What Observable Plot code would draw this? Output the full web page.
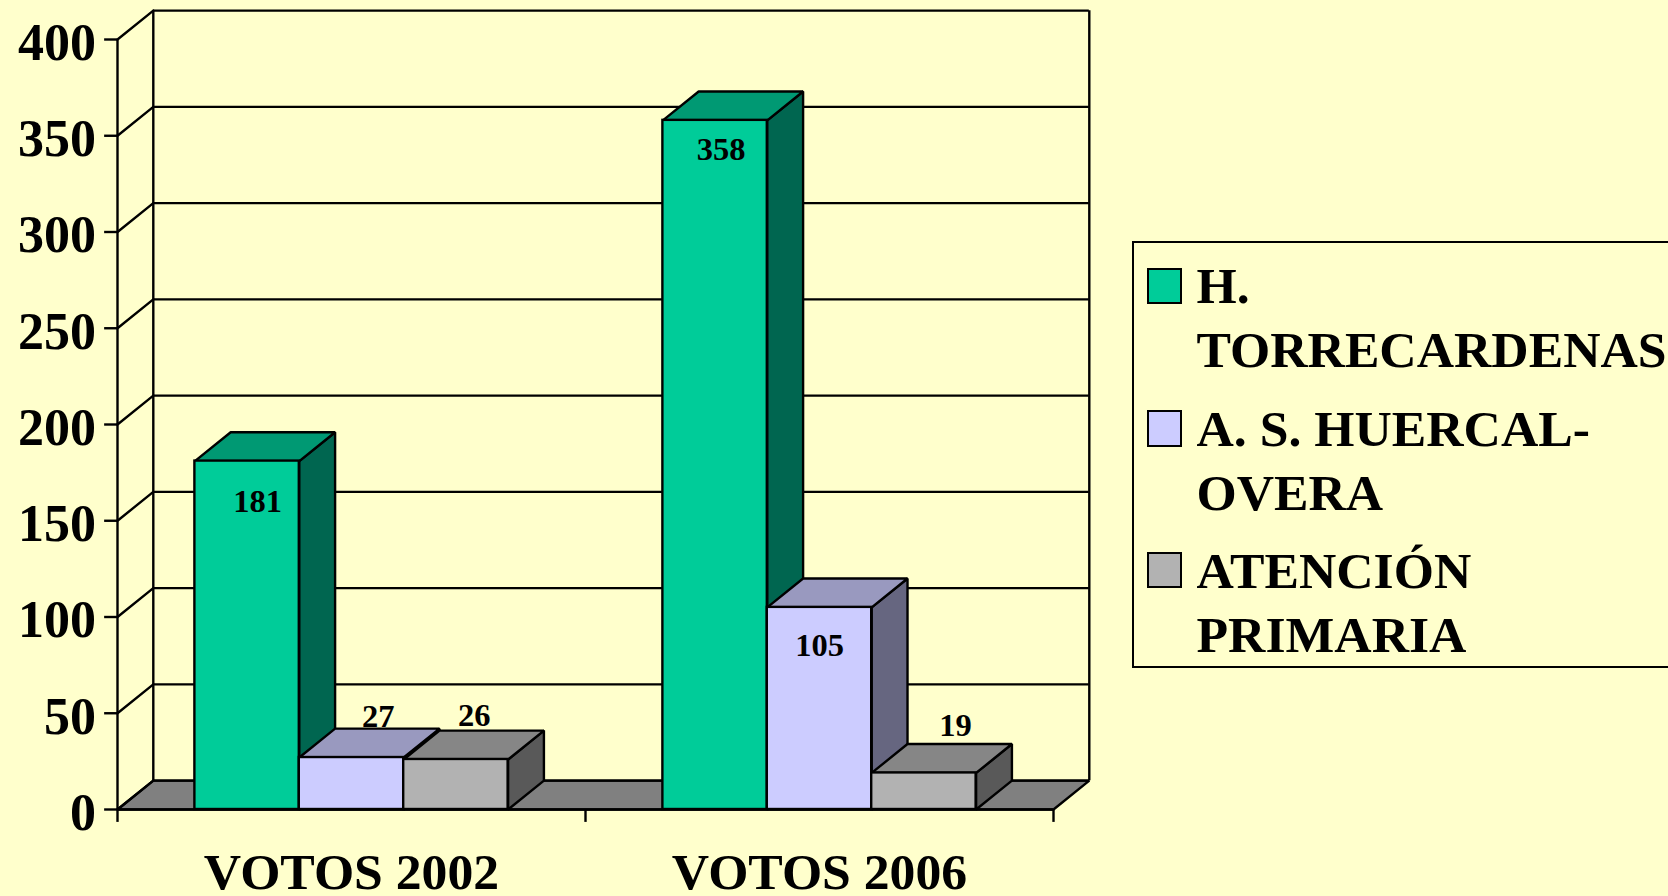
<!DOCTYPE html>
<html lang="es">
<head>
<meta charset="utf-8">
<style>
html,body{margin:0;padding:0;width:1668px;height:896px;overflow:hidden;background:#FFFFCC}
#wrap{position:relative;width:1668px;height:896px;overflow:hidden}
#wrap svg{display:block;position:absolute;left:0;top:0}
#legend{position:absolute;left:1132px;top:240.5px;width:700px;height:427px;border:2px solid #000;box-sizing:border-box}
.sw{position:absolute;left:13px;width:34.5px;height:36.5px;border:2px solid #000;box-sizing:border-box}
.lb{position:absolute;left:62.5px;font:bold 51.7px/64px "Liberation Serif",serif;color:#000;white-space:nowrap}
</style>
<script src="https://cdn.jsdelivr.net/npm/d3@7"></script>
<script src="https://cdn.jsdelivr.net/npm/@observablehq/plot@0.6"></script>
</head>
<body>
<div id="wrap"></div>
<script>
// ---- data ----
const categories = ["VOTOS 2002", "VOTOS 2006"];
const seriesNames = [["H.", "TORRECARDENAS"], ["A. S. HUERCAL-", "OVERA"], ["ATENCIÓN", "PRIMARIA"]];
const torrecardenas = [181, 358];
const huercal = [27, 105];
const atencion = [26, 19];
const yTicks = [0, 50, 100, 150, 200, 250, 300, 350, 400];

// ---- style ----
const values = [torrecardenas, huercal, atencion];
const front = ["#00CC99", "#CCCCFF", "#B2B2B2"];
const top3d = ["#009973", "#9999BF", "#868686"];
const side = ["#006650", "#666680", "#595959"];
const floorColor = "#808080";
const font = '"Liberation Serif", serif';
const big = 51.7, tickFont = 52, small = 32.5, lw = 2.4;
// depth of the 3D box and bar width, in scale units
const depthX = 0.0765, depthY = 15, barW = 0.2231;
// manual label nudges (px, from top of bar to baseline), series by category
const nudge = [[[10.5, 50.5], [6, 40]], [[26.7, -31], [0, 49]], [[18.4, -33], [31.7, -36.7]]];

const poly = (pts, fill) => Plot.line(pts, {
  x: d => d[0], y: d => d[1], curve: "linear-closed",
  fill, stroke: "#000", strokeWidth: lw, strokeLinejoin: "miter"
});
const shapeOpts = {stroke: "#000", strokeWidth: lw};

const marks = [];
// floor
marks.push(poly([[0, 0], [depthX, depthY], [2 + depthX, depthY], [2, 0]], floorColor));
// back wall gridlines and side wall diagonals
marks.push(Plot.ruleY(yTicks, {x1: depthX, x2: 2 + depthX, y: d => d + depthY, ...shapeOpts}));
yTicks.forEach(t => marks.push(Plot.line([[0, t], [depthX, t + depthY]], {x: d => d[0], y: d => d[1], ...shapeOpts})));
marks.push(Plot.ruleX([depthX, 2 + depthX], {y1: depthY, y2: 400 + depthY, ...shapeOpts}));
// axis frame and ticks
marks.push(Plot.ruleX([0], {y1: 0, y2: 400, ...shapeOpts}));
marks.push(Plot.ruleY(yTicks, {x1: -0.0275, x2: 0, ...shapeOpts}));
marks.push(Plot.ruleX([0, 1, 2], {y1: -6.7, y2: 0, ...shapeOpts}));
marks.push(Plot.ruleY([0], {x1: 0, x2: 2, ...shapeOpts}));
// bars, back to front, left to right
categories.forEach((c, i) => {
  values.forEach((s, j) => {
    const v = s[i];
    const x0 = i + 0.5 - 1.5 * barW + j * barW, x1 = x0 + barW;
    marks.push(poly([[x1, 0], [x1 + depthX, depthY], [x1 + depthX, v + depthY], [x1, v]], side[j]));
    marks.push(poly([[x0, v], [x0 + depthX, v + depthY], [x1 + depthX, v + depthY], [x1, v]], top3d[j]));
    marks.push(Plot.rect([v], {x1: x0, x2: x1, y1: 0, y2: d => d, fill: front[j], ...shapeOpts}));
  });
});
// value labels
categories.forEach((c, i) => {
  values.forEach((s, j) => {
    const cx = i + 0.5 + (j - 1) * barW;
    marks.push(Plot.text([s[i]], {
      x: cx, y: d => d, text: d => String(d),
      dx: nudge[j][i][0], dy: nudge[j][i][1],
      lineAnchor: "bottom", textAnchor: "middle",
      fontSize: small, fontWeight: "bold", fill: "#000"
    }));
  });
});
// axes
marks.push(Plot.axisY(yTicks, {
  tickSize: 0, tickPadding: 21.5, dy: 3.8, fontSize: tickFont, fontWeight: "bold",
  label: null, fill: "#000", tickFormat: d => String(d)
}));
marks.push(Plot.axisX([0.5, 1.5], {
  tickSize: 0, tickPadding: 43, fontSize: big, fontWeight: "bold",
  label: null, fill: "#000", tickFormat: d => categories[Math.floor(d)]
}));

const chart = Plot.plot({
  width: 1668, height: 896,
  marginLeft: 117, marginRight: 615, marginTop: 39, marginBottom: 87,
  style: {background: "#FFFFCC", fontFamily: font, overflow: "hidden"},
  x: {domain: [0, 2], axis: null},
  y: {domain: [0, 400], axis: null},
  marks
});
const wrap = document.getElementById("wrap");
wrap.appendChild(chart);

// legend
const legend = document.createElement("div");
legend.id = "legend";
const swTop = [25, 167.5, 309];
const lbTop = [11.5, 154.2, 296.5];
seriesNames.forEach((lines, j) => {
  const sw = document.createElement("div");
  sw.className = "sw"; sw.style.top = swTop[j] + "px"; sw.style.background = front[j];
  const lb = document.createElement("div");
  lb.className = "lb"; lb.style.top = lbTop[j] + "px";
  lb.innerHTML = lines.join("<br>");
  legend.append(sw, lb);
});
wrap.appendChild(legend);
</script>
</body>
</html>
